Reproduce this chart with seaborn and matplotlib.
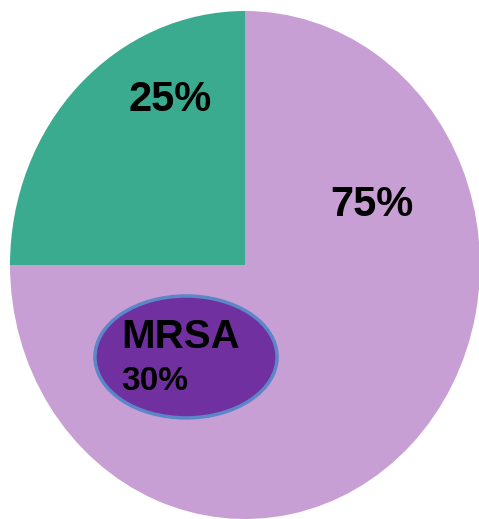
import matplotlib
matplotlib.use('Agg')
import matplotlib.pyplot as plt
from matplotlib.patches import Ellipse
import seaborn as sns

labels = ['Other', 'S. aureus']
shares = [25, 75]
colors = ['#3aab8e', '#c89fd4']
mrsa_label = 'MRSA'
mrsa_share = 30

sns.set_theme(style='white')
plt.rcParams['font.family'] = ['Liberation Sans', 'DejaVu Sans']

fig = plt.figure(figsize=(4.79, 5.19), dpi=100)
ax = fig.add_axes([10 / 479, 0 / 519, 470 / 479, 508 / 519])
ax.pie(shares, colors=colors, startangle=90, counterclock=True,
       wedgeprops=dict(linewidth=0))
ax.set_aspect('auto')
ax.set_xlim(-1, 1)
ax.set_ylim(-1, 1)
ax.axis('off')

ax.text(-0.32, 0.65, f'{shares[0]}%', ha='center', va='center',
        fontsize=30, fontweight='bold', color='black')
ax.text(0.54, 0.235, f'{shares[1]}%', ha='center', va='center',
        fontsize=30, fontweight='bold', color='black')

ax.add_patch(Ellipse((-0.251, -0.362), 0.775, 0.48, facecolor='#7030a0',
                     edgecolor='#5b86c8', linewidth=2.5))
ax.text(-0.525, -0.283, mrsa_label, ha='left', va='center',
        fontsize=29, fontweight='bold', color='black')
ax.text(-0.525, -0.457, f'{mrsa_share}%', ha='left', va='center',
        fontsize=24, fontweight='bold', color='black')

fig.savefig('out.png', dpi=100)
